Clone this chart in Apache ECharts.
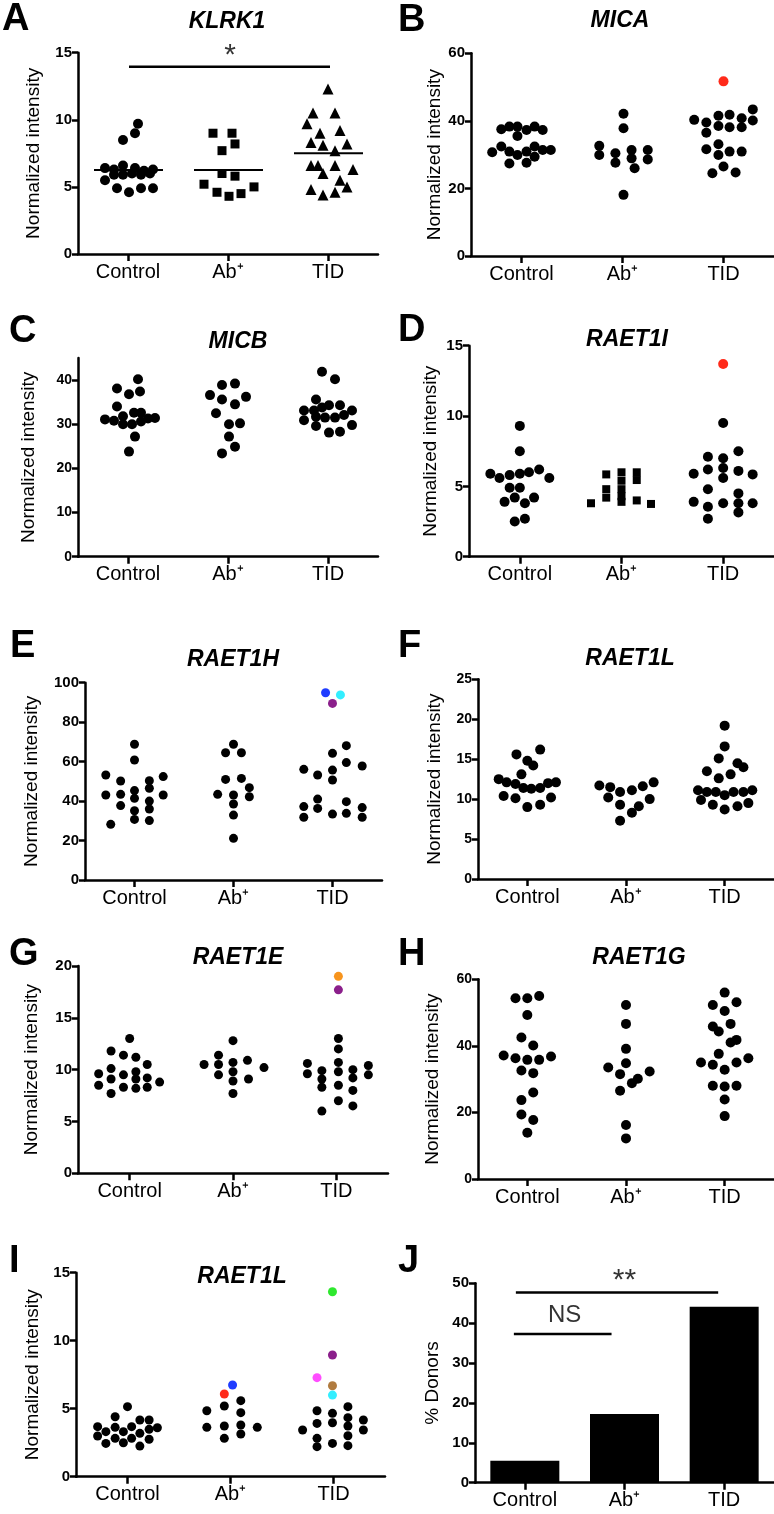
<!DOCTYPE html>
<html>
<head>
<meta charset="utf-8">
<script src="https://cdn.jsdelivr.net/npm/echarts@6/dist/echarts.min.js"></script>
<style>
  html, body { margin: 0; padding: 0; background: #fff; }
  #main { width: 774px; height: 1514px; }
</style>
</head>
<body>
<div id="main"></div>
<script>
// groups on every x axis
var groups = ['Control', 'Ab⁺', 'TID'];

// each point is [offset from group centre (in group widths), value]
// A - KLRK1
var klrk1Control = [[-0.23,6.4],[-0.14,6.3],[-0.05,6.6],[0.07,6.4],[0.16,6.2],[0.25,6.3],[-0.14,5.9],[-0.05,5.9],[0.04,6.0],[0.13,5.9],[0.22,6.0],[-0.23,5.5],[-0.11,4.9],[0.01,4.6],[0.13,4.9],[0.25,4.9],[0.10,9.7],[0.07,9.0],[-0.05,8.5]];
var klrk1Ab = [[-0.15,9.0],[0.04,9.0],[0.07,8.2],[-0.06,7.7],[-0.06,6.0],[0.07,5.8],[-0.24,5.2],[0.26,5.0],[-0.11,4.6],[0.01,4.3],[0.13,4.5]];
var klrk1Tid = [[0,12.3],[-0.15,10.5],[0.07,10.5],[-0.21,9.7],[0.12,9.2],[-0.08,9.0],[-0.17,8.3],[-0.05,8.1],[0.19,8.2],[0.07,7.7],[-0.17,6.6],[-0.1,6.6],[0.07,6.6],[-0.05,6.0],[0.25,6.3],[0.12,5.5],[-0.17,4.8],[-0.05,4.4],[0.07,4.6],[0.19,5.0]];
var klrk1Means = [6.26, 6.26, 7.5];

// B - MICA
var micaControl = [[-0.29,30.7],[-0.2,32.4],[-0.2,37.5],[-0.12,38.3],[-0.12,30.9],[-0.12,27.4],[-0.04,38.3],[-0.04,35.5],[-0.04,29.9],[0.05,37.3],[0.05,30.9],[0.05,27.6],[0.13,38.3],[0.13,32.4],[0.13,29.4],[0.21,37.3],[0.21,31.4],[0.29,31.4]];
var micaAb = [[0.01,42.1],[0.01,37.8],[-0.23,32.6],[-0.23,29.9],[-0.07,30.4],[-0.07,27.6],[0.09,31.4],[0.09,28.9],[0.12,26.0],[0.25,31.4],[0.25,28.6],[0.01,18.1]];
var micaTid = [[-0.29,40.3],[-0.17,39.5],[-0.17,36.5],[-0.05,38.5],[-0.05,41.5],[0.06,41.8],[0.06,38.1],[0.18,40.8],[0.18,38.1],[0.29,43.4],[0.29,40.1],[-0.17,31.6],[-0.05,33.1],[-0.05,29.9],[0.06,30.9],[0.18,30.9],[-0.11,24.5],[0,26.5],[0.12,24.7]];
var micaTidHighlight = [[0,51.7]];

// C - MICB
var micbControl = [[0.10,40.2],[-0.11,38.1],[0.12,37.4],[0.01,36.8],[-0.11,34.0],[-0.05,31.8],[0.06,32.6],[0.13,32.6],[-0.23,31.1],[-0.14,30.8],[-0.05,30.0],[0.04,30.0],[0.13,30.6],[0.2,31.3],[0.27,31.4],[0.07,27.2],[0.01,23.8]];
var micbAb = [[-0.18,36.6],[-0.06,38.9],[0.07,39.2],[-0.06,35.6],[0.07,34.5],[0.18,36.2],[-0.12,32.5],[0.01,30.0],[0.12,30.2],[0.01,27.2],[0.07,24.9],[-0.06,23.4]];
var micbTid = [[-0.06,41.9],[0.07,40.2],[-0.12,35.6],[-0.24,33.1],[-0.14,33.1],[-0.06,33.8],[0.01,34.3],[0.12,34.3],[0.24,33.1],[-0.12,31.7],[-0.03,31.5],[0.07,31.5],[0.16,32.1],[-0.24,30.9],[-0.12,29.6],[0.01,28.1],[0.12,28.3],[0.24,29.8]];

// D - RAET1I
var raet1iControl = [[0,9.3],[0,7.5],[-0.29,5.9],[-0.2,5.6],[-0.1,5.8],[0,5.9],[0.09,6.0],[0.19,6.2],[0.29,5.6],[-0.1,4.9],[0,4.9],[-0.15,3.9],[-0.05,4.2],[0.05,3.8],[0.14,4.2],[-0.05,2.5],[0.05,2.7]];
var raet1iAb = [[-0.3,3.8],[-0.15,5.85],[-0.15,4.8],[-0.15,4.2],[0,6.0],[0,5.4],[0,4.8],[0,4.3],[0,3.9],[0.15,6.0],[0.15,5.45],[0.15,4.0],[0.29,3.75]];
var raet1iTid = [[0,9.5],[-0.15,7.1],[0,7.0],[0.15,7.5],[-0.29,5.9],[-0.15,6.2],[0,6.3],[0,5.6],[0.15,6.1],[0.29,5.85],[-0.15,4.8],[0.15,4.5],[-0.29,3.9],[0,3.8],[0.15,3.8],[0.29,3.8],[-0.15,3.55],[0.15,3.15],[-0.15,2.7]];
var raet1iTidHighlight = [[0,13.7]];

// E - RAET1H
var raet1hControl = [[-0.29,53.2],[-0.29,43.1],[-0.14,50.2],[-0.14,43.4],[-0.14,37.7],[-0.24,28.2],[0,68.8],[0,60.8],[0,45.3],[0,41.4],[0,35.1],[0,30.7],[0.15,50.3],[0.15,46.5],[0.15,40.0],[0.15,36.0],[0.15,30.1],[0.29,52.4],[0.29,43.1]];
var raet1hAb = [[0,68.8],[-0.08,64.5],[0.08,64.5],[-0.08,51.0],[0.08,51.5],[0.16,46.8],[0.16,42.2],[-0.16,43.4],[0,43.1],[0,38.5],[0,32.9],[0,21.1]];
var raet1hTid = [[-0.29,56.1],[-0.15,53.2],[0,64.2],[0,55.7],[0,50.7],[0.14,68.1],[0.14,59.5],[0.3,57.8],[-0.29,37.2],[-0.29,31.8],[-0.15,41.0],[-0.15,36.3],[0,33.4],[0.14,39.7],[0.14,33.8],[0.3,36.7],[0.3,31.8]];
var raet1hTidHighlight = [[-0.07,94.9],[0.08,93.8],[0,89.5]];

// F - RAET1L
var raet1lFControl = [[-0.29,12.5],[-0.21,12.1],[-0.12,11.9],[-0.04,11.4],[0.04,11.3],[0.13,11.4],[0.21,12.0],[0.29,12.1],[-0.24,10.4],[-0.12,10.1],[0,9.0],[0.13,9.3],[0.24,10.2],[-0.06,13.1],[-0.11,15.6],[0,14.8],[0.06,14.2],[0.13,16.2]];
var raet1lFAb = [[-0.27,11.7],[-0.16,11.5],[-0.18,10.2],[-0.06,10.9],[0.06,11.1],[0.17,11.6],[0.28,12.1],[-0.06,9.3],[0.13,9.1],[0.24,10.0],[0.06,8.3],[-0.06,7.3]];
var raet1lFTid = [[0,19.2],[0,16.6],[-0.06,15.1],[0.13,14.5],[0.19,14.0],[-0.18,13.5],[0.06,13.1],[-0.06,12.6],[-0.27,11.1],[-0.18,10.9],[-0.09,10.9],[0,10.5],[0.09,10.9],[0.19,10.9],[0.28,11.1],[-0.24,9.9],[-0.12,9.3],[0,8.7],[0.13,9.1],[0.24,9.5]];

// G - RAET1E
var raet1eControl = [[0,13.0],[-0.18,11.8],[-0.06,11.4],[0.06,11.2],[0.17,10.5],[-0.18,10.1],[-0.3,9.6],[-0.06,9.5],[0.06,9.8],[-0.18,9.1],[0.06,9.1],[0.17,9.2],[0.29,8.8],[-0.3,8.5],[-0.06,8.3],[0.06,8.2],[0.17,8.3],[-0.18,7.7]];
var raet1eAb = [[0,12.8],[-0.14,11.4],[-0.28,10.5],[-0.14,10.5],[0,9.8],[0,10.7],[0.14,10.9],[0.3,10.2],[-0.14,9.5],[0,8.9],[0.15,9.1],[0,7.7]];
var raet1eTid = [[0.02,13.0],[0.02,12.0],[0.02,10.7],[0.02,9.8],[0.02,8.5],[0.02,7.0],[-0.28,10.6],[-0.28,9.6],[-0.14,9.9],[-0.14,9.1],[-0.14,8.3],[-0.14,6.0],[0.16,10.0],[0.16,9.2],[0.16,8.0],[0.16,6.5],[0.31,10.4],[0.31,9.5]];
var raet1eTidHighlight = [[0.02,19.0],[0.02,17.7]];

// H - RAET1G
var raet1gControl = [[-0.12,54.3],[0,54.3],[0.12,55.0],[0,49.3],[-0.06,42.5],[0.06,40.1],[-0.24,37.1],[-0.12,36.3],[0,35.8],[0.12,35.8],[0.24,36.8],[-0.06,32.6],[0.06,31.8],[0.06,26.0],[-0.06,23.7],[-0.06,19.4],[0.06,17.7],[0,13.9]];
var raet1gAb = [[0,52.3],[0,46.6],[0,39.1],[0,34.8],[-0.18,33.5],[-0.06,31.5],[0.06,28.8],[0.12,30.1],[0.24,32.3],[-0.06,26.5],[0,16.2],[0,12.2]];
var raet1gTid = [[0,56.0],[-0.12,52.3],[0.12,53.1],[0,50.5],[-0.12,45.8],[-0.06,44.3],[0.06,46.6],[0.06,41.0],[0.12,41.8],[-0.06,37.6],[-0.24,35.0],[-0.12,34.3],[0.12,35.0],[0.24,36.3],[0,32.8],[-0.12,28.0],[0,27.8],[0.12,28.0],[0,23.9],[0,18.9]];

// I - RAET1L
var raet1lIControl = [[0,5.15],[-0.12,4.41],[0.12,4.17],[0.21,4.17],[-0.29,3.68],[-0.21,3.31],[-0.12,3.63],[-0.04,3.31],[0.04,3.68],[0.12,3.19],[0.21,3.48],[0.29,3.6],[-0.29,2.99],[-0.12,2.82],[0.04,2.82],[0.21,2.75],[-0.21,2.45],[-0.04,2.5],[0.12,2.25]];
var raet1lIAb = [[-0.23,4.85],[-0.23,3.63],[-0.06,5.2],[-0.06,3.73],[-0.06,2.82],[0.1,5.59],[0.1,4.71],[0.1,3.8],[0.1,3.14],[0.26,3.63]];
var raet1lIAbHighlight = [[0.02,6.74],[-0.06,6.08]];
var raet1lITid = [[-0.3,3.43],[-0.16,4.85],[-0.16,3.92],[-0.16,2.82],[-0.16,2.21],[-0.01,4.66],[-0.01,3.97],[-0.01,2.45],[0.14,5.15],[0.14,4.34],[0.14,3.73],[0.14,3.01],[0.14,2.28],[0.29,4.17],[0.29,3.43]];
var raet1lITidHighlight = [[-0.01,13.6],[-0.01,8.95],[-0.16,7.28],[-0.01,6.69],[-0.01,6.0]];

// J - % donors
var donorPercent = [5.5, 17.2, 44.1];

// highlight colours
var red = '#ff2a1a', blue = '#1f3cff', cyan = '#33eeff', purple = '#8b1f8b';
var orange = '#f7941d', green = '#2ee82e', magenta = '#ff4dff', brown = '#b07b3f';

var font = '"Liberation Sans", Arial, Helvetica, sans-serif';

var panels = [
  {letter:'A', gene:'KLRK1', yMax:15, yStep:5, sets:[klrk1Control, klrk1Ab, klrk1Tid], symbols:['circle','rect','triangle'],
   box:[78,52.7,300,201.3], nameGap:35, letterAt:[2,20], geneAt:[227,22], dot:10, sizes:[10,9,11],
   means:klrk1Means, sig:[{x:[0.51,2.52], y:13.95}], sigText:[{x:1.52, y:14.8, text:'*'}]},
  {letter:'B', gene:'MICA', yMax:60, yStep:20, sets:[micaControl, micaAb, micaTid],
   box:[471,53.3,303,202.7], nameGap:27, letterAt:[398,21], geneAt:[620,21], dot:10,
   hi:[{g:2, pts:micaTidHighlight, colors:[red]}]},
  {letter:'C', gene:'MICB', yMax:45, yStep:10, yTicks:[0,10,20,30,40], sets:[micbControl, micbAb, micbTid],
   box:[78,358,300,198.7], nameGap:40, letterAt:[9,332], geneAt:[238,342], dot:10, tickFont:14},
  {letter:'D', gene:'RAET1I', yMax:15, yStep:5, sets:[raet1iControl, raet1iAb, raet1iTid], symbols:['circle','rect','circle'],
   box:[469,345.7,318,211], nameGap:29, letterAt:[398,331], geneAt:[627,340], dot:10, sizes:[10,8,10],
   hi:[{g:2, pts:raet1iTidHighlight, colors:[red]}]},
  {letter:'E', gene:'RAET1H', yMax:100, yStep:20, sets:[raet1hControl, raet1hAb, raet1hTid],
   box:[85,682.7,297,197.3], nameGap:44, letterAt:[10,647], geneAt:[233,660], dot:9,
   hi:[{g:2, pts:raet1hTidHighlight, colors:[blue, cyan, purple]}]},
  {letter:'F', gene:'RAET1L', yMax:25, yStep:5, sets:[raet1lFControl, raet1lFAb, raet1lFTid],
   box:[478,679.3,300,199.7], nameGap:34, letterAt:[398,647], geneAt:[630,659], dot:10, tickFont:14},
  {letter:'G', gene:'RAET1E', yMax:20, yStep:5, sets:[raet1eControl, raet1eAb, raet1eTid],
   box:[78,966,310,207.3], nameGap:37, letterAt:[9,955], geneAt:[238,958], dot:9,
   hi:[{g:2, pts:raet1eTidHighlight, colors:[orange, purple]}]},
  {letter:'H', gene:'RAET1G', yMax:60, yStep:20, sets:[raet1gControl, raet1gAb, raet1gTid],
   box:[478,979.3,300,199.7], nameGap:36, letterAt:[398,955], geneAt:[639,958], dot:10, tickFont:14},
  {letter:'I', gene:'RAET1L', yMax:15, yStep:5, sets:[raet1lIControl, raet1lIAb, raet1lITid],
   box:[76,1272.7,309,204], nameGap:34, letterAt:[9,1262], geneAt:[242,1277], dot:9,
   hi:[{g:1, pts:raet1lIAbHighlight, colors:[blue, red]},
       {g:2, pts:raet1lITidHighlight, colors:[green, purple, magenta, brown, cyan]}]},
  {letter:'J', yMax:50, yStep:10, bars:donorPercent, yName:'% Donors',
   box:[475,1283.3,300,199.4], nameGap:33, letterAt:[398,1262],
   sig:[{x:[0.41,2.44], y:47.7}, {x:[0.39,1.37], y:37.3}],
   sigText:[{x:1.5, y:50.6, text:'**'}, {x:0.9, y:41.9, text:'NS'}]}
];

var axisLine = {show:true, onZero:false, lineStyle:{color:'#000', width:2.5}};

var option = {animation:false, backgroundColor:'#fff', grid:[], xAxis:[], yAxis:[], series:[], graphic:[]};

panels.forEach(function (p, i) {
  var cat = 2 * i, val = 2 * i + 1;
  option.grid.push({left:p.box[0], top:p.box[1], width:p.box[2], height:p.box[3], containLabel:false});
  option.xAxis.push({
    gridIndex:i, type:'category', data:groups, boundaryGap:true,
    axisLine:axisLine, axisTick:{show:true, alignWithLabel:true, length:7, lineStyle:{color:'#000', width:2.5}},
    axisLabel:{color:'#000', fontSize:20, fontFamily:font, margin:8}, splitLine:{show:false}
  });
  option.xAxis.push({gridIndex:i, type:'value', min:0, max:3, show:false});
  var yTick = {show:true, length:6, lineStyle:{color:'#000', width:2.5}};
  var yLabel = {color:'#000', fontSize:p.tickFont || 15, fontWeight:'bold', fontFamily:font, margin:6};
  if (p.yTicks) { yTick.customValues = p.yTicks; yLabel.customValues = p.yTicks; }
  option.yAxis.push({
    gridIndex:i, type:'value', min:0, max:p.yMax, interval:p.yStep,
    axisLine:axisLine, axisTick:yTick, axisLabel:yLabel, splitLine:{show:false},
    name:p.yName || 'Normalized intensity', nameLocation:'middle', nameGap:p.nameGap, nameRotate:90,
    nameTextStyle:{color:'#000', fontSize:19, fontFamily:font}
  });

  if (p.sets) {
    p.sets.forEach(function (pts, g) {
      var sym = p.symbols ? p.symbols[g] : 'circle';
      var size = p.sizes ? p.sizes[g] : p.dot;
      option.series.push({
        type:'scatter', xAxisIndex:val, yAxisIndex:i, symbol:sym, symbolSize:size, silent:true,
        itemStyle:{color:'#000', opacity:1},
        data:pts.map(function (d) { return [g + 0.5 + d[0], d[1]]; })
      });
    });
  }
  (p.hi || []).forEach(function (h) {
    option.series.push({
      type:'scatter', xAxisIndex:val, yAxisIndex:i, symbolSize:p.dot, silent:true,
      itemStyle:{opacity:1},
      data:h.pts.map(function (d, k) { return {value:[h.g + 0.5 + d[0], d[1]], itemStyle:{color:h.colors[k], opacity:1}}; })
    });
  });
  if (p.means) {
    p.means.forEach(function (m, g) {
      option.series.push({
        type:'line', xAxisIndex:val, yAxisIndex:i, symbol:'none', silent:true,
        lineStyle:{color:'#000', width:2},
        data:[[g + 0.16, m], [g + 0.85, m]]
      });
    });
  }
  if (p.bars) {
    option.series.push({
      type:'bar', xAxisIndex:cat, yAxisIndex:i, barWidth:69, silent:true,
      itemStyle:{color:'#000'}, data:p.bars
    });
  }
  (p.sig || []).forEach(function (s) {
    option.series.push({
      type:'line', xAxisIndex:val, yAxisIndex:i, symbol:'none', silent:true,
      lineStyle:{color:'#000', width:2.5},
      data:[[s.x[0], s.y], [s.x[1], s.y]]
    });
  });
  (p.sigText || []).forEach(function (s) {
    var isNs = s.text === 'NS';
    option.series.push({
      type:'scatter', xAxisIndex:val, yAxisIndex:i, symbolSize:1, silent:true, clip:false,
      itemStyle:{color:'rgba(0,0,0,0)'},
      label:{show:true, position:'inside', formatter:s.text, color:'#000',
             fontSize:isNs ? 24 : 30, fontFamily:font},
      data:[[s.x, s.y]]
    });
  });

  option.graphic.push({
    type:'text', x:p.letterAt[0], y:p.letterAt[1], silent:true,
    style:{text:p.letter, font:'bold 38px ' + font, fill:'#000', align:'left', verticalAlign:'middle'}
  });
  if (p.gene) {
    option.graphic.push({
      type:'text', x:p.geneAt[0], y:p.geneAt[1], silent:true,
      style:{text:p.gene, font:'italic bold 23px ' + font, fill:'#000', align:'center', verticalAlign:'middle'}
    });
  }
});

var myChart = echarts.init(document.getElementById('main'), null, {renderer:'canvas'});
myChart.setOption(option);
</script>
</body>
</html>
